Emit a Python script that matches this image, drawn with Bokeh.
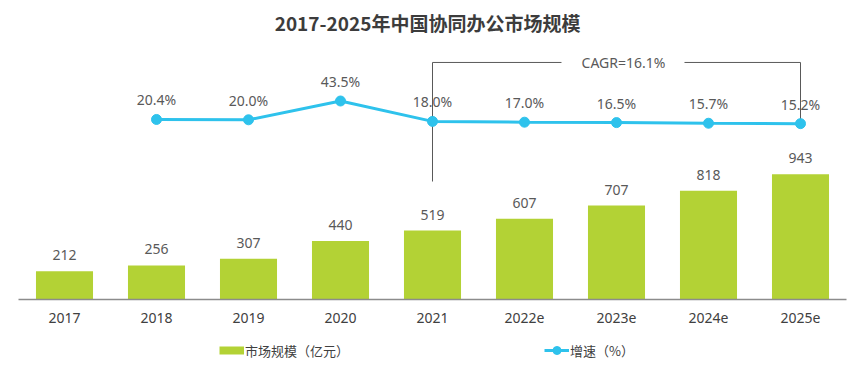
from bokeh.plotting import figure
from bokeh.models import FactorRange, Range1d, Legend, LegendItem
from bokeh.layouts import column
from bokeh.core.properties import value
from bokeh.embed import file_html
from bokeh.resources import INLINE

# ---- data ----
years = ["2017", "2018", "2019", "2020", "2021", "2022e", "2023e", "2024e", "2025e"]
market = [212, 256, 307, 440, 519, 607, 707, 818, 943]
rate_years = ["2018", "2019", "2020", "2021", "2022e", "2023e", "2024e", "2025e"]
rate = [20.4, 20.0, 43.5, 18.0, 17.0, 16.5, 15.7, 15.2]
cagr_text = "CAGR=16.1%"
title_text = "2017-2025年中国协同办公市场规模"
bar_label = "市场规模（亿元）"
line_label = "增速（%）"

GREEN = "#b3d235"
BLUE = "#2ec2ec"
TXT = "#595959"

p = figure(width=856, height=330,
           x_range=FactorRange(*years, range_padding=0),
           y_range=Range1d(0, 2250.3),
           y_axis_location=None,
           min_border_left=18, min_border_right=10,
           min_border_top=0, min_border_bottom=31,
           output_backend="svg", toolbar_location=None)
p.extra_y_ranges = {"rate": Range1d(-204.6, 169.1)}

p.outline_line_color = None
p.xgrid.visible = False
p.ygrid.visible = False

ax = p.xaxis[0]
ax.axis_line_color = "#8c8c8c"
ax.axis_line_width = 1.5
ax.major_tick_line_color = None
ax.minor_tick_line_color = None
ax.major_label_standoff = 7
ax.major_label_text_font = "Noto Sans"
ax.major_label_text_font_size = "14px"
ax.major_label_text_color = "#404040"

# title (placed in frame, synthetic x coordinate)
p.text(x=[4.446], y=[2084.8], text=[title_text], text_align="center",
       text_baseline="middle", text_font=value("Noto Sans CJK SC"),
       text_font_size="19px", text_font_style="bold", text_color="#3c3c3c")

bars = p.vbar(x=years, top=market, width=0.62, color=GREEN, line_color=None)
p.text(x=years, y=market, text=[str(v) for v in market],
       text_align="center", text_baseline="bottom", y_offset=-11,
       text_font=value("Noto Sans"), text_font_size="14px", text_color=TXT)

# CAGR bracket (synthetic categorical coordinates)
p.segment(x0=[4.5, 4.5, 7.239, 8.5], y0=[888, 1784, 1784, 1332],
          x1=[4.5, 5.902, 8.5, 8.5], y1=[1784, 1784, 1784, 1784],
          line_color="#595959", line_width=1)
p.text(x=[6.576], y=[1784], text=[cagr_text], text_align="center",
       text_baseline="middle", text_font=value("Noto Sans"),
       text_font_size="14px", text_color=TXT)

ln = p.line(x=rate_years, y=rate, y_range_name="rate", line_color=BLUE, line_width=3)
sc = p.scatter(x=rate_years, y=rate, y_range_name="rate", size=10,
               fill_color=BLUE, line_color=BLUE)
p.text(x=rate_years, y=rate, y_range_name="rate", text=[f"{v:.1f}%" for v in rate],
       text_align="center", text_baseline="bottom", y_offset=-10,
       text_font=value("Noto Sans"), text_font_size="14px", text_color=TXT)

# ---- legend strip (separate small figure) ----
lg = figure(width=856, height=45, x_range=Range1d(0, 1), y_range=Range1d(0, 1),
            x_axis_location=None, y_axis_location=None,
            min_border_left=0, min_border_right=0, min_border_top=0, min_border_bottom=0,
            output_backend="svg", toolbar_location=None)
lg.outline_line_color = None
lg.xgrid.visible = False
lg.ygrid.visible = False
px_bar = lg.line(x=[-5, -4], y=[-5, -5], line_color=GREEN, line_width=8)
px_ln = lg.line(x=[-5, -4], y=[-5, -5], line_color=BLUE, line_width=3)
px_sc = lg.scatter(x=[-5], y=[-5], size=10, fill_color=BLUE, line_color=BLUE)

legend = Legend(items=[LegendItem(label=bar_label, renderers=[px_bar]),
                       LegendItem(label=line_label, renderers=[px_ln, px_sc])],
                orientation="horizontal", location=(201, 15),
                glyph_width=25, glyph_height=20, label_standoff=1,
                spacing=195, padding=0, margin=0,
                border_line_color=None, background_fill_alpha=0,
                label_text_font="Noto Sans CJK SC", label_text_font_size="13px",
                label_text_color="#404040")
lg.add_layout(legend, "center")

layout = column(p, lg, spacing=0)
open("out.html", "w").write(file_html(layout, INLINE))
